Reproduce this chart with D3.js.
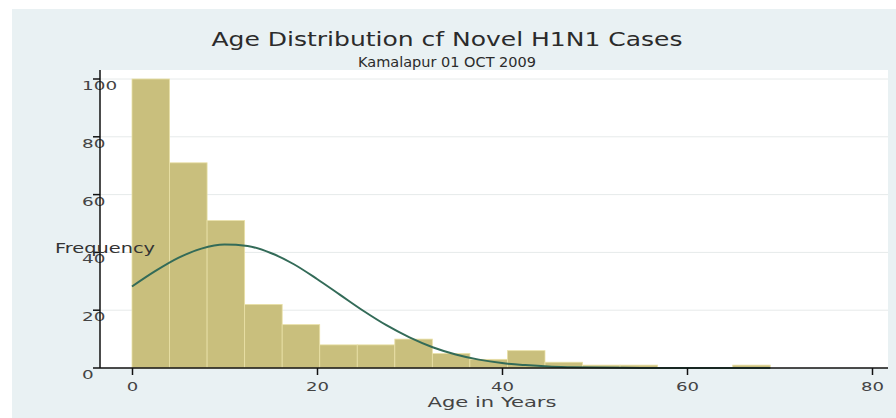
<!DOCTYPE html>
<html>
<head>
<meta charset="utf-8">
<script src="https://cdn.jsdelivr.net/npm/d3@7/dist/d3.min.js"></script>
<style>
  body { margin: 0; background: #ffffff; }
  svg { display: block; font-family: "DejaVu Sans", Verdana, sans-serif; }
</style>
</head>
<body>
<div id="chart"></div>
<script>
// histogram counts, one per age bin (bins start at 0)
var binWidth = 69 / 17;
var freq = [100, 71, 51, 22, 15, 8, 8, 10, 5, 3, 6, 2, 1, 1, 0, 0, 1];

// fitted normal curve
var curveAge  = [0, 2.5, 5, 7.5, 10, 12.5, 15, 17.5, 20, 22.5, 25, 27.5, 30, 32.5, 35, 37.5, 40, 42.5, 45, 47.5, 50, 55, 60, 69];
var curveFreq = [28.2, 33.5, 38.1, 41.3, 42.7, 42.2, 39.8, 35.9, 30.8, 25.3, 19.8, 14.8, 10.6, 7.2, 4.7, 2.9, 1.7, 1.0, 0.5, 0.27, 0.13, 0.03, 0, 0];

var xTicks = [0, 20, 40, 60, 80];
var yTicks = [0, 20, 40, 60, 80, 100];

var title = "Age Distribution cf Novel H1N1 Cases";
var subtitle = "Kamalapur 01 OCT 2009";
var xLabel = "Age in Years";
var yLabel = "Frequency";

var W = 896, H = 418;
var plot = {left: 100, right: 888, top: 70, bottom: 368};

var svg = d3.select("#chart").append("svg")
    .attr("width", W)
    .attr("height", H);

// outer panel
svg.append("rect")
    .attr("x", 12).attr("y", 9)
    .attr("width", W - 12).attr("height", H - 9)
    .attr("fill", "#e9f1f3");

// plot region
svg.append("rect")
    .attr("x", plot.left).attr("y", plot.top)
    .attr("width", plot.right - plot.left)
    .attr("height", plot.bottom - plot.top)
    .attr("fill", "#ffffff");

var x = d3.scaleLinear().domain([0, 80]).range([132, 872]);
var y = d3.scaleLinear().domain([0, 100]).range([plot.bottom, 79]);

// gridlines
svg.append("g")
    .selectAll("line")
    .data(yTicks.filter(function(d) { return d > 0; }))
    .enter().append("line")
    .attr("x1", plot.left).attr("x2", plot.right)
    .attr("y1", function(d) { return y(d); })
    .attr("y2", function(d) { return y(d); })
    .attr("stroke", "#e6eaea")
    .attr("stroke-width", 1);

// bars
svg.append("g")
    .selectAll("rect")
    .data(freq)
    .enter().append("rect")
    .attr("x", function(d, i) { return x(i * binWidth); })
    .attr("width", function(d, i) { return x((i + 1) * binWidth) - x(i * binWidth); })
    .attr("y", function(d) { return y(d); })
    .attr("height", function(d) { return y(0) - y(d); })
    .attr("fill", "#c9bf7d")
    .attr("stroke", "#e9e0a6")
    .attr("stroke-width", 0.8);

// normal density line
var line = d3.line()
    .x(function(d) { return x(d[0]); })
    .y(function(d) { return y(d[1]); })
    .curve(d3.curveMonotoneX);

svg.append("path")
    .datum(curveAge.map(function(a, i) { return [a, curveFreq[i]]; }))
    .attr("d", line)
    .attr("fill", "none")
    .attr("stroke", "#336b58")
    .attr("stroke-width", 2);

// x axis
var xAxis = d3.axisBottom(x).tickValues(xTicks).tickSize(7).tickPadding(7);
var gx = svg.append("g")
    .attr("transform", "translate(0," + plot.bottom + ")")
    .call(xAxis);
gx.select(".domain").remove();
gx.selectAll(".tick line").attr("stroke", "#111").attr("stroke-width", 1.5);
gx.selectAll(".tick text")
    .attr("font-size", 13)
    .attr("fill", "#444")
    .attr("font-family", "DejaVu Sans")
    .attr("textLength", function(d) { return String(d).length * 11.5; })
    .attr("lengthAdjust", "spacingAndGlyphs");
svg.append("line")
    .attr("x1", plot.left).attr("x2", plot.right)
    .attr("y1", plot.bottom).attr("y2", plot.bottom)
    .attr("stroke", "#111").attr("stroke-width", 1.5);

// y axis: labels sit over the axis line, as in the original
var gy = svg.append("g");
gy.selectAll("line")
    .data(yTicks)
    .enter().append("line")
    .attr("x1", 93).attr("x2", plot.left)
    .attr("y1", function(d) { return y(d); })
    .attr("y2", function(d) { return y(d); })
    .attr("stroke", "#111").attr("stroke-width", 1.5);
gy.selectAll("text")
    .data(yTicks)
    .enter().append("text")
    .attr("x", 82)
    .attr("y", function(d) { return y(d) + 11; })
    .attr("font-size", 13)
    .attr("fill", "#444")
    .attr("textLength", function(d) { return String(d).length * 11.7; })
    .attr("lengthAdjust", "spacingAndGlyphs")
    .text(function(d) { return d; });
svg.append("line")
    .attr("x1", plot.left).attr("x2", plot.left)
    .attr("y1", plot.top).attr("y2", plot.bottom)
    .attr("stroke", "#111").attr("stroke-width", 1.5);

// titles
svg.append("text")
    .attr("x", 447).attr("y", 46)
    .attr("text-anchor", "middle")
    .attr("font-size", 20)
    .attr("fill", "#2b2b2b")
    .attr("textLength", 471)
    .attr("lengthAdjust", "spacingAndGlyphs")
    .text(title);

svg.append("text")
    .attr("x", 447).attr("y", 67)
    .attr("text-anchor", "middle")
    .attr("font-size", 14)
    .attr("fill", "#2b2b2b")
    .attr("textLength", 178)
    .attr("lengthAdjust", "spacingAndGlyphs")
    .text(subtitle);

svg.append("text")
    .attr("x", 492).attr("y", 407)
    .attr("text-anchor", "middle")
    .attr("font-size", 14)
    .attr("fill", "#444")
    .attr("textLength", 129)
    .attr("lengthAdjust", "spacingAndGlyphs")
    .text(xLabel);

svg.append("text")
    .attr("x", 55).attr("y", 253)
    .attr("font-size", 14)
    .attr("fill", "#333")
    .attr("textLength", 100)
    .attr("lengthAdjust", "spacingAndGlyphs")
    .text(yLabel);
</script>
</body>
</html>
